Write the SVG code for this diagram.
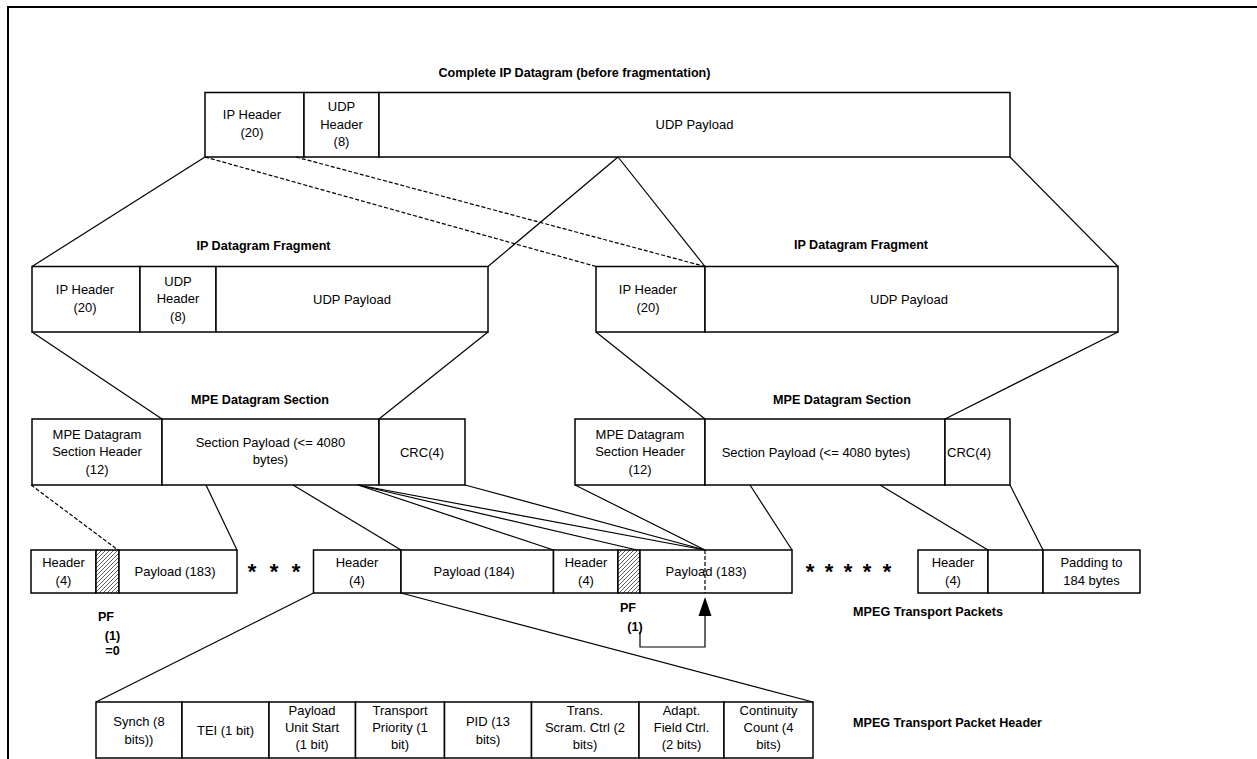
<svg xmlns="http://www.w3.org/2000/svg" width="1257" height="759" viewBox="0 0 1257 759">
<style>
.box{fill:#fff;stroke:#000;stroke-width:1.5}
.hat{fill:url(#hatch);stroke:#000;stroke-width:1.5}
.t{font-family:"Liberation Sans",Arial,sans-serif;font-size:13px;fill:#000;text-anchor:middle}
.ts{font-family:"Liberation Sans",Arial,sans-serif;font-size:13px;fill:#000;text-anchor:start}
.b{font-family:"Liberation Sans",Arial,sans-serif;font-size:12.6px;font-weight:bold;fill:#000;text-anchor:middle}
.star{font-family:"Liberation Sans",Arial,sans-serif;font-size:22px;font-weight:bold;fill:#000;text-anchor:middle}
.ln{stroke:#000;stroke-width:1.2;fill:none}
.dash{stroke-dasharray:4 2}
.frame{stroke:#000;stroke-width:2;fill:none}
</style>
<defs>
<pattern id="hatch" width="4" height="4" patternUnits="userSpaceOnUse">
<rect width="4" height="4" fill="#fff"/>
<path d="M-1,1 L1,-1 M0,4 L4,0 M3,5 L5,3" stroke="#333" stroke-width="0.8"/>
</pattern>
</defs>
<rect width="1257" height="759" fill="#fff"/>
<path class="frame" d="M8,759 V7 H1257"/>

<g id="labels">
<text class="b" x="574.5" y="76.5">Complete IP Datagram (before fragmentation)</text>
<text class="b" x="263.5" y="249.5">IP Datagram Fragment</text>
<text class="b" x="861" y="249">IP Datagram Fragment</text>
<text class="b" x="260" y="403.5">MPE Datagram Section</text>
<text class="b" x="842" y="403.5">MPE Datagram Section</text>
<text class="b" x="928" y="615.5">MPEG Transport Packets</text>
<text class="b" x="947.5" y="726.5">MPEG Transport Packet Header</text>
<text class="b" x="106" y="621">PF</text>
<text class="b" x="112.5" y="639.5">(1)</text>
<text class="b" x="112.5" y="655">=0</text>
<text class="b" x="628" y="611.5">PF</text>
<text class="b" x="635" y="630.5">(1)</text>
<text class="star" x="252" y="579">*</text>
<text class="star" x="274" y="579">*</text>
<text class="star" x="296" y="579">*</text>
<text class="star" x="810" y="579">*</text>
<text class="star" x="829" y="579">*</text>
<text class="star" x="848" y="579">*</text>
<text class="star" x="867" y="579">*</text>
<text class="star" x="887" y="579">*</text>
</g>

<g id="ip-datagram">
<rect class="box" x="205" y="92.5" width="99" height="64.5"/>
<rect class="box" x="304" y="92.5" width="75" height="64.5"/>
<rect class="box" x="379" y="92.5" width="631" height="64.5"/>
<text class="t" x="252" y="119">IP Header</text>
<text class="t" x="252" y="137">(20)</text>
<text class="t" x="341.5" y="111">UDP</text>
<text class="t" x="341.5" y="128.5">Header</text>
<text class="t" x="341.5" y="146">(8)</text>
<text class="t" x="694.5" y="129">UDP Payload</text>
</g>

<g id="fragment-1">
<rect class="box" x="32" y="266.5" width="108" height="65.5"/>
<rect class="box" x="140" y="266.5" width="76" height="65.5"/>
<rect class="box" x="216" y="266.5" width="272" height="65.5"/>
<text class="t" x="85" y="294">IP Header</text>
<text class="t" x="85" y="311.5">(20)</text>
<text class="t" x="178" y="285.5">UDP</text>
<text class="t" x="178" y="303">Header</text>
<text class="t" x="178" y="320.5">(8)</text>
<text class="t" x="352" y="303.5">UDP Payload</text>
</g>

<g id="fragment-2">
<rect class="box" x="596" y="266.5" width="109" height="65.5"/>
<rect class="box" x="705" y="266.5" width="413" height="65.5"/>
<text class="t" x="648" y="294">IP Header</text>
<text class="t" x="648" y="311.5">(20)</text>
<text class="t" x="909" y="303.5">UDP Payload</text>
</g>

<g id="mpe-section-1">
<rect class="box" x="32" y="419" width="130" height="66"/>
<rect class="box" x="162" y="419" width="217" height="66"/>
<rect class="box" x="379" y="419" width="86" height="66"/>
<text class="t" x="97" y="438.5">MPE Datagram</text>
<text class="t" x="97" y="456">Section Header</text>
<text class="t" x="97" y="473.5">(12)</text>
<text class="t" x="270.5" y="446.5">Section Payload (&lt;= 4080</text>
<text class="t" x="270.5" y="464">bytes)</text>
<text class="t" x="422" y="457">CRC(4)</text>
</g>

<g id="mpe-section-2">
<rect class="box" x="575" y="419" width="130" height="66"/>
<rect class="box" x="705" y="419" width="240" height="66"/>
<rect class="box" x="945" y="419" width="65" height="66"/>
<text class="t" x="640" y="438.5">MPE Datagram</text>
<text class="t" x="640" y="456">Section Header</text>
<text class="t" x="640" y="473.5">(12)</text>
<text class="t" x="816" y="456.5">Section Payload (&lt;= 4080 bytes)</text>
<text class="ts" x="947" y="456.5">CRC(4)</text>
</g>

<g id="ts-packet-1">
<rect class="box" x="31" y="550" width="65" height="43"/>
<rect class="hat" x="96" y="550" width="23" height="43"/>
<rect class="box" x="119" y="550" width="118" height="43"/>
<text class="t" x="63.5" y="567">Header</text>
<text class="t" x="63.5" y="584.5">(4)</text>
<text class="t" x="175" y="576">Payload (183)</text>
</g>

<g id="ts-packet-2">
<rect class="box" x="313.5" y="550" width="87.5" height="43"/>
<rect class="box" x="401" y="550" width="152.5" height="43"/>
<text class="t" x="357" y="567">Header</text>
<text class="t" x="357" y="584.5">(4)</text>
<text class="t" x="474" y="576">Payload (184)</text>
</g>

<g id="ts-packet-3">
<rect class="box" x="553.5" y="550" width="64.5" height="43"/>
<rect class="hat" x="618" y="550" width="22" height="43"/>
<rect class="box" x="640" y="550" width="152" height="43"/>
<text class="t" x="586" y="567">Header</text>
<text class="t" x="586" y="584.5">(4)</text>
<text class="t" x="706" y="576">Payload (183)</text>
</g>

<g id="ts-packet-last">
<rect class="box" x="918" y="550" width="70" height="43"/>
<rect class="box" x="988" y="550" width="55" height="43"/>
<rect class="box" x="1043" y="550" width="97" height="43"/>
<text class="t" x="953" y="567">Header</text>
<text class="t" x="953" y="584.5">(4)</text>
<text class="t" x="1091.5" y="567">Padding to</text>
<text class="t" x="1091.5" y="584.5">184 bytes</text>
</g>

<g id="ts-header">
<rect class="box" x="96" y="702" width="86" height="56"/>
<rect class="box" x="182" y="702" width="87" height="56"/>
<rect class="box" x="269" y="702" width="86.5" height="56"/>
<rect class="box" x="355.5" y="702" width="89" height="56"/>
<rect class="box" x="444.5" y="702" width="87" height="56"/>
<rect class="box" x="531.5" y="702" width="107.5" height="56"/>
<rect class="box" x="639" y="702" width="85" height="56"/>
<rect class="box" x="724" y="702" width="89" height="56"/>
<text class="t" x="139" y="726">Synch (8</text>
<text class="t" x="139" y="743.5">bits))</text>
<text class="t" x="225.5" y="734.5">TEI (1 bit)</text>
<text class="t" x="312" y="715">Payload</text>
<text class="t" x="312" y="732">Unit Start</text>
<text class="t" x="312" y="749">(1 bit)</text>
<text class="t" x="400" y="715">Transport</text>
<text class="t" x="400" y="732">Priority (1</text>
<text class="t" x="400" y="749">bit)</text>
<text class="t" x="488" y="726">PID (13</text>
<text class="t" x="488" y="743.5">bits)</text>
<text class="t" x="585" y="715">Trans.</text>
<text class="t" x="585" y="732">Scram. Ctrl (2</text>
<text class="t" x="585" y="749">bits)</text>
<text class="t" x="681.5" y="715">Adapt.</text>
<text class="t" x="681.5" y="732">Field Ctrl.</text>
<text class="t" x="681.5" y="749">(2 bits)</text>
<text class="t" x="768.5" y="715">Continuity</text>
<text class="t" x="768.5" y="732">Count (4</text>
<text class="t" x="768.5" y="749">bits)</text>
</g>

<g id="connectors">
<line class="ln" x1="205" y1="157" x2="32" y2="266.5"/>
<line class="ln" x1="618" y1="157" x2="488" y2="266.5"/>
<line class="ln" x1="618" y1="157" x2="705" y2="266.5"/>
<line class="ln" x1="1010" y1="157" x2="1118" y2="266.5"/>
<line class="ln" x1="32" y1="332" x2="162" y2="419"/>
<line class="ln" x1="488" y1="332" x2="379" y2="419"/>
<line class="ln" x1="596" y1="332" x2="705" y2="419"/>
<line class="ln" x1="1118" y1="332" x2="945" y2="419"/>
<line class="ln" x1="206" y1="485" x2="237" y2="550"/>
<line class="ln" x1="293" y1="485" x2="401" y2="550"/>
<line class="ln" x1="358" y1="485" x2="553.5" y2="550"/>
<line class="ln" x1="358" y1="485" x2="637" y2="550"/>
<line class="ln" x1="358" y1="485" x2="705" y2="550"/>
<line class="ln" x1="465" y1="485" x2="705" y2="550"/>
<line class="ln" x1="575" y1="485" x2="705" y2="550"/>
<line class="ln" x1="750" y1="485" x2="792" y2="550"/>
<line class="ln" x1="880" y1="485" x2="988" y2="550"/>
<line class="ln" x1="1010" y1="485" x2="1043" y2="550"/>
<line class="ln" x1="313.5" y1="593" x2="96" y2="702"/>
<line class="ln" x1="401" y1="593" x2="813" y2="702"/>
<line class="ln dash" x1="205" y1="157" x2="596" y2="266.5"/>
<line class="ln dash" x1="296" y1="157" x2="705" y2="266.5"/>
<line class="ln dash" x1="31" y1="485" x2="118" y2="550"/>
<line class="ln dash" x1="705" y1="550" x2="705" y2="593"/>
<path class="ln" d="M640,632 V647 H705 V612"/>
<path d="M705,597 L698.5,616 L711.5,616 Z" fill="#000"/>
</g>
</svg>
